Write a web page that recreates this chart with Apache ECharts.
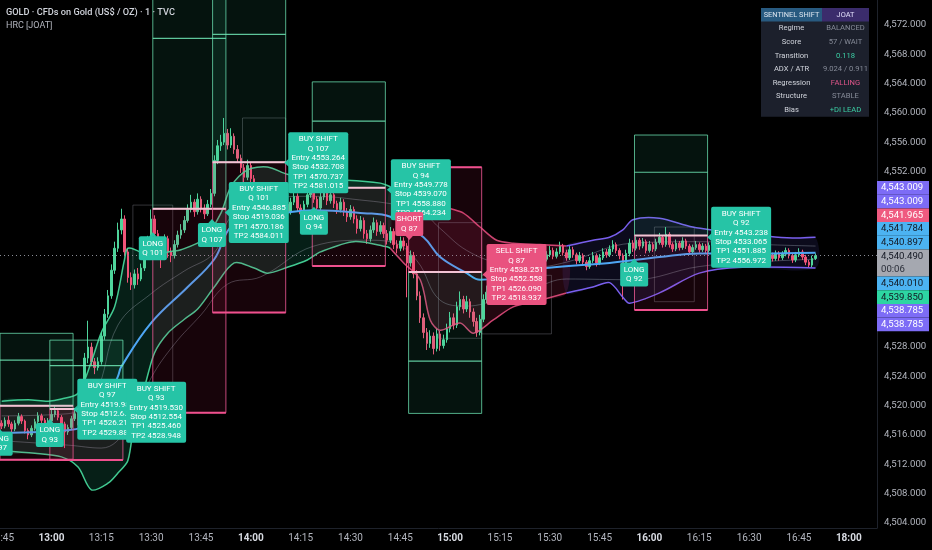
<!DOCTYPE html>
<html><head><meta charset="utf-8">
<script src="https://cdn.jsdelivr.net/npm/echarts@6/dist/echarts.min.js"></script>
<style>html,body{margin:0;padding:0;background:#000;}#c{width:932px;height:550px;}</style>
</head><body><div id="c"></div>
<script>
// ---------- DATA ----------
const tickLabels = ['12:45','13:00','13:15','13:30','13:45','14:00','14:15','14:30','14:45','15:00','15:15','15:30','15:45','16:00','16:15','16:30','16:45','18:00'];
const firstOpen = 4517.6;
const closes = [
4517.2,4518.0,4517.5,4516.8,4517.6,4518.5,4517.9,4516.6,4516.0,4516.9,
4517.8,4518.6,4518.0,4517.2,4517.9,4518.8,4519.3,4518.4,4517.5,4516.4,
4517.0,4518.2,4518.9,4517.8,4519.8,4526.5,4528.0,4526.0,4525.2,4526.0,
4529.5,4532.5,4535.0,4538.5,4541.5,4544.0,4545.5,4541.0,4537.5,4536.5,
4538.0,4537.3,4538.8,4540.5,4542.5,4545.5,4543.5,4542.0,4541.5,4542.8,
4541.0,4540.5,4542.0,4543.3,4544.0,4545.3,4546.8,4547.8,4546.5,4548.2,
4547.0,4546.2,4547.5,4549.0,4553.5,4555.5,4556.0,4557.2,4555.6,4556.8,
4555.0,4553.8,4552.5,4551.2,4552.8,4551.0,4549.5,4548.2,4549.0,4547.5,
4548.8,4547.0,4546.0,4547.2,4548.5,4547.5,4546.5,4547.8,4548.6,4547.0,
4546.2,4547.5,4548.8,4549.5,4548.2,4547.0,4548.5,4549.3,4548.0,4548.8,
4547.6,4546.8,4547.8,4546.5,4545.8,4546.8,4545.5,4544.2,4545.3,4543.5,
4542.8,4544.0,4545.0,4543.8,4544.6,4543.5,4542.6,4543.8,4542.0,4541.5,
4542.5,4541.8,4539.5,4540.5,4538.0,4535.0,4532.0,4530.0,4528.5,4529.5,
4527.8,4529.8,4528.2,4529.0,4530.5,4532.0,4531.0,4533.5,4534.5,4533.2,
4534.2,4532.8,4531.5,4530.0,4531.8,4534.5,4535.5,4536.2,4535.5,4536.8,
4537.5,4536.9,4537.8,4538.4,4537.6,4538.6,4539.2,4538.5,4539.4,4540.0,
4539.3,4540.2,4540.8,4540.0,4540.6,4541.2,4540.4,4541.0,4541.8,4540.9,
4540.2,4541.3,4540.6,4539.8,4540.5,4539.6,4539.0,4539.8,4540.5,4539.5,
4540.2,4541.0,4540.6,4541.4,4542.0,4541.2,4540.5,4538.8,4540.8,4542.2,
4541.5,4542.6,4541.8,4542.4,4541.2,4542.0,4541.4,4542.3,4543.0,4542.0,
4543.4,4542.0,4541.4,4542.2,4541.6,4542.5,4541.8,4541.0,4541.6,4542.0,
4541.3,4541.8,4541.2,4541.9,4542.4,4541.6,4541.0,4541.5,4540.8,4541.4,
4542.0,4541.3,4540.7,4541.2,4540.5,4541.0,4541.6,4540.9,4540.3,4540.9,
4541.4,4540.6,4540.1,4540.8,4540.2,4540.7,4541.2,4540.5,4539.9,4540.6,
4541.0,4540.3,4539.6,4539.2,4540.1,4540.49];
const highs = [
4518.0,4518.4,4518.6,4517.8,4518.0,4519.0,4518.8,4518.1,4516.9,4517.3,
4518.2,4519.1,4518.9,4518.3,4518.3,4519.4,4519.9,4519.6,4518.7,4517.8,
4517.4,4518.6,4519.4,4519.2,4520.3,4527.2,4531.6,4528.6,4526.5,4526.6,
4530.1,4533.2,4535.8,4539.3,4542.4,4545.0,4546.9,4546.0,4541.5,4538.2,
4538.6,4538.8,4539.4,4541.6,4543.2,4546.8,4546.0,4544.0,4542.6,4543.4,
4543.2,4541.6,4542.6,4543.9,4544.8,4545.9,4547.5,4548.8,4548.2,4549.0,
4548.6,4547.5,4548.1,4549.6,4554.2,4556.3,4557.0,4559.3,4557.8,4557.9,
4557.2,4555.6,4554.3,4553.0,4553.6,4553.2,4551.5,4550.0,4549.6,4549.4,
4549.5,4549.2,4547.5,4547.8,4549.1,4549.0,4548.0,4548.4,4549.3,4549.0,
4547.5,4548.0,4549.4,4550.2,4549.9,4548.6,4549.1,4550.0,4549.7,4549.4,
4549.2,4548.0,4548.4,4548.2,4547.0,4547.4,4547.2,4546.0,4545.9,4545.7,
4544.0,4544.6,4545.7,4545.4,4545.2,4545.0,4544.0,4544.4,4544.2,4542.6,
4543.1,4543.0,4542.2,4541.2,4541.0,4538.5,4535.6,4532.6,4530.6,4530.3,
4530.0,4530.5,4530.2,4529.7,4531.2,4532.8,4532.6,4534.2,4535.6,4535.0,
4535.0,4534.6,4533.3,4532.0,4532.4,4535.2,4536.4,4536.8,4536.7,4537.3,
4538.0,4537.9,4538.3,4538.9,4538.8,4539.1,4539.7,4539.6,4539.9,4540.6,
4540.4,4540.7,4541.4,4541.2,4541.1,4541.8,4541.6,4541.5,4542.4,4542.1,
4541.3,4541.8,4541.7,4540.9,4541.0,4540.8,4539.9,4540.3,4541.0,4540.8,
4540.7,4541.5,4541.4,4541.9,4542.6,4542.3,4541.5,4540.8,4541.3,4542.8,
4542.6,4543.1,4542.9,4542.9,4542.7,4542.5,4542.3,4542.8,4543.6,4543.3,
4544.4,4543.7,4542.3,4542.7,4542.5,4543.0,4542.8,4542.1,4542.0,4542.5,
4542.3,4542.2,4542.1,4542.3,4542.9,4542.7,4541.9,4541.9,4541.8,4541.8,
4542.4,4542.3,4541.6,4541.6,4541.5,4541.4,4542.1,4541.9,4541.2,4541.3,
4541.9,4541.7,4540.9,4541.2,4541.1,4541.1,4541.6,4541.5,4540.8,4541.0,
4541.5,4541.3,4540.6,4539.9,4540.5,4540.8];
const lows = [
4516.8,4516.9,4517.1,4516.2,4516.5,4517.3,4517.5,4516.2,4515.4,4515.7,
4516.6,4517.5,4517.6,4516.7,4516.9,4517.6,4518.4,4518.0,4517.0,4514.2,
4516.0,4516.7,4517.9,4517.3,4517.5,4519.5,4525.8,4525.4,4524.3,4524.8,
4525.6,4529.0,4532.0,4534.6,4538.0,4541.0,4543.4,4540.4,4536.8,4535.8,
4536.0,4536.5,4537.0,4538.4,4540.0,4542.2,4543.0,4541.4,4538.8,4541.0,
4540.2,4539.6,4540.1,4541.6,4542.8,4543.6,4545.0,4546.4,4545.8,4546.1,
4546.4,4545.5,4545.9,4547.1,4548.6,4553.0,4554.8,4555.6,4555.0,4555.2,
4554.4,4553.2,4551.8,4550.5,4550.8,4550.2,4548.8,4547.6,4547.8,4546.9,
4547.1,4546.4,4545.3,4545.7,4546.8,4547.0,4545.9,4546.1,4547.4,4546.5,
4545.6,4545.8,4547.1,4548.4,4547.7,4546.4,4546.6,4548.1,4547.4,4547.6,
4547.0,4546.2,4546.4,4545.9,4545.1,4545.4,4544.9,4543.5,4543.8,4542.8,
4542.1,4542.4,4543.6,4543.2,4543.4,4542.9,4542.0,4542.2,4541.4,4540.8,
4541.1,4541.2,4534.8,4539.0,4537.4,4534.4,4531.3,4529.2,4527.6,4527.9,
4527.0,4527.4,4527.5,4527.8,4528.6,4530.0,4530.4,4530.6,4533.0,4532.6,
4532.8,4532.0,4530.8,4529.4,4529.6,4531.4,4534.0,4535.0,4535.0,4535.2,
4536.4,4536.4,4536.6,4537.4,4537.1,4537.3,4538.2,4538.0,4538.2,4539.0,
4538.8,4539.0,4539.9,4539.6,4539.7,4540.3,4540.0,4540.1,4540.7,4540.5,
4539.8,4539.9,4540.2,4539.3,4539.5,4539.1,4538.5,4538.7,4539.5,4539.0,
4539.2,4539.9,4540.2,4540.3,4541.0,4540.8,4540.0,4534.5,4538.4,4540.4,
4541.0,4541.2,4541.3,4541.5,4540.8,4540.9,4541.0,4541.1,4542.0,4541.6,
4541.7,4541.6,4541.0,4541.1,4541.2,4541.3,4541.4,4540.6,4540.7,4541.3,
4540.9,4541.0,4540.8,4540.9,4541.6,4541.2,4540.6,4540.7,4540.4,4540.5,
4541.1,4540.9,4540.3,4540.4,4540.1,4540.2,4540.7,4540.5,4539.9,4540.0,
4540.6,4540.2,4539.7,4539.8,4539.8,4539.9,4540.4,4540.1,4539.5,4539.6,
4540.3,4539.9,4539.2,4538.9,4538.9,4539.9];

// regime band (upper / lower) per segment, [bar, price]
const upperGreen = [[0,4520.6],[8,4520.8],[14,4520.6],[18,4520.9],[23,4521.7],[27,4526.0],[30,4530.0],[34,4533.5],[37,4540.0],[38,4541.5],[42,4540.9],[44,4540.0],[50,4541.0],[54,4541.3],[61,4542.8],[66,4546.3],[69,4549.9],[74,4552.2],[80,4552.6],[86,4551.6],[94,4550.8],[104,4550.8],[114,4550.4],[117,4549.9]];
const lowerGreen = [[0,4513.8],[10,4513.5],[18,4513.0],[23,4511.6],[27,4508.5],[32,4509.4],[35,4510.8],[38,4512.5],[40,4518.0],[43,4522.5],[46,4527.2],[50,4529.9],[55,4531.8],[59,4533.2],[64,4536.2],[70,4539.5],[76,4538.8],[80,4538.1],[86,4538.9],[92,4539.9],[96,4541.0],[106,4542.4],[116,4541.7],[117,4541.5]];
const upperPink = [[117,4549.9],[124,4549.5],[129,4548.5],[134,4547.1],[139,4546.3],[144,4544.4],[149,4542.6],[154,4542.2],[162,4542.0],[170,4541.8]];
const lowerPink = [[117,4541.5],[121,4539.5],[126,4537.2],[129,4531.7],[132,4530.3],[138,4531.3],[142,4529.9],[148,4531.7],[154,4533.5],[162,4534.4],[170,4535.4]];
const upperPurple = [[170,4541.8],[178,4542.6],[183,4543.0],[187,4544.0],[190,4545.4],[198,4545.6],[208,4544.4],[221,4543.6],[238,4542.9],[245,4543.0]];
const lowerPurple = [[170,4535.4],[178,4536.2],[183,4536.8],[187,4534.8],[189,4534.0],[198,4535.4],[210,4538.1],[223,4538.9],[245,4538.8]];
const innerHigh = [[0,4518.6],[20,4518.9],[28,4521.5],[35,4531.0],[45,4535.3],[55,4538.4],[64,4540.9],[69,4545.8],[78,4548.2],[94,4548.6],[110,4548.0],[117,4547.6],[125,4547.0],[132,4544.2],[140,4541.2],[150,4539.4],[160,4538.9],[170,4539.6],[190,4542.2],[210,4542.4],[230,4542.0],[245,4541.8]];
const innerLow  = [[0,4515.2],[20,4514.6],[30,4514.2],[38,4517.0],[45,4523.8],[52,4528.4],[60,4532.4],[68,4536.6],[78,4537.6],[94,4541.8],[110,4542.6],[117,4542.4],[125,4539.8],[132,4534.4],[140,4533.6],[150,4534.6],[160,4536.0],[170,4537.3],[190,4537.2],[210,4539.0],[230,4539.7],[245,4540.0]];
const basisLine = [[0,4516.3],[21,4516.7],[30,4519.0],[35,4524.0],[36,4525.3],[45,4531.3],[56,4536.2],[64,4540.0],[69,4544.4],[76,4545.4],[94,4546.7],[109,4546.3],[117,4545.8],[127,4543.0],[132,4540.3],[140,4538.1],[144,4537.2],[164,4538.8],[183,4539.5],[198,4540.3],[210,4540.8],[228,4540.8],[245,4540.9]];

// faint structure boxes: startBar, endBar, top, bottom
const structStart = [40, 73, 132, 145, 197];
const structEnd   = [52, 86, 145, 166, 209];
const structTop   = [4547.4, 4559.3, 4545.0, 4537.8, 4544.4];
const structBot   = [4515.1, 4545.0, 4529.2, 4529.8, 4534.2];

// trade boxes
const boxStart = [0, 15, 46, 64, 94, 123, 191];
const boxSide  = ['long','long','long','long','long','short','long'];
const boxEntry = [4519.98, 4519.530, 4546.885, 4553.264, 4549.778, 4538.251, 4543.238];
const boxStop  = [4512.60, 4512.554, 4519.036, 4532.708, 4539.070, 4552.558, 4533.065];
const boxTP1   = [4526.21, 4525.460, 4570.186, 4570.737, 4558.880, 4526.090, 4551.885];
const boxTP2   = [4529.88, 4528.948, 4584.011, 4581.015, 4564.234, 4518.937, 4556.972];
const boxBars = 22;

// signal labels: bar, price, kind, pointer, text
const sigBar   = [-0.9, 14.5, 31.8, 46.5, 45.5, 63.3, 77.4, 94.0, 95.3, 126.2, 122.7, 155.0, 190.4, 222.6];
const sigPrice = [4514.8, 4516.0, 4519.5, 4519.1, 4541.5, 4543.3, 4546.4, 4545.0, 4553.2, 4549.5, 4544.8, 4537.9, 4537.9, 4543.0];
const sigKind  = ['buy','buy','buy','buy','buy','buy','buy','buy','buy','buy','sell','sell','buy','buy'];
const sigPtr   = ['up','up','left','left','up','up','left','up','left','left','down','left','up','left'];
const sigText  = [
 'LONG\nQ 97','LONG\nQ 93',
 'BUY SHIFT\nQ 97\nEntry 4519.980\nStop 4512.604\nTP1 4526.214\nTP2 4529.884',
 'BUY SHIFT\nQ 93\nEntry 4519.530\nStop 4512.554\nTP1 4525.460\nTP2 4528.948',
 'LONG\nQ 101','LONG\nQ 107',
 'BUY SHIFT\nQ 101\nEntry 4546.885\nStop 4519.036\nTP1 4570.186\nTP2 4584.011',
 'LONG\nQ 94',
 'BUY SHIFT\nQ 107\nEntry 4553.264\nStop 4532.708\nTP1 4570.737\nTP2 4581.015',
 'BUY SHIFT\nQ 94\nEntry 4549.778\nStop 4539.070\nTP1 4558.880\nTP2 4564.234',
 'SHORT\nQ 87',
 'SELL SHIFT\nQ 87\nEntry 4538.251\nStop 4552.558\nTP1 4526.090\nTP2 4518.937',
 'LONG\nQ 92',
 'BUY SHIFT\nQ 92\nEntry 4543.238\nStop 4533.065\nTP1 4551.885\nTP2 4556.972'];

// axis tags on the right
const tagValues = ['4,543.009','4,543.009','4,541.965','4,541.784','4,540.897','4,540.490','4,540.010','4,539.850','4,538.785','4,538.785'];
const tagTone   = ['purple','purple','pink','blue','blue','gray','blue','green','purple','purple'];
const countdown = '00:06';
const lastPrice = 4540.49;
const yTicks = [4504,4508,4512,4516,4520,4524,4528,4552,4556,4560,4564,4568,4572];

// info table
const tableHead = ['SENTINEL SHIFT','JOAT'];
const tableKeys = ['Regime','Score','Transition','ADX / ATR','Regression','Structure','Bias'];
const tableVals = ['BALANCED','57 / WAIT','0.118','9.024 / 0.911','FALLING','STABLE','+DI LEAD'];
const tableTone = ['muted','muted','teal','muted','pink','muted','teal'];

// ---------- BUILD ----------
const NCAT = 264;
const categories = [];
for (let i = 0; i < NCAT; i++) {
  let m = i < 255 ? 12*60+45+i : 18*60+(i-255);
  const h = Math.floor(m/60), mm = m%60;
  categories.push((h<10?'0':'')+h+':'+(mm<10?'0':'')+mm);
}
const tickSet = new Set(tickLabels);
const candles = closes.map((c,i)=>[i===0?firstOpen:closes[i-1], c, lows[i], highs[i]]);

const FONT = 'Roboto, "Liberation Sans", sans-serif';
const bandSegs = [
  {u:upperGreen, l:lowerGreen, fill:'rgba(38,190,140,0.16)', line:'rgba(72,222,160,0.9)'},
  {u:upperPink,  l:lowerPink,  fill:'rgba(210,40,95,0.17)',  line:'rgba(236,80,130,0.85)'},
  {u:upperPurple,l:lowerPurple,fill:'rgba(95,85,220,0.13)',  line:'rgba(128,100,250,0.95)'}
];

function coordF(api, i, p) {
  const f = Math.floor(i);
  const c = api.coord([f, p]);
  const bw = api.size([1,0])[0];
  return [c[0] + (i - f) * bw, c[1]];
}

const chart = echarts.init(document.getElementById('c'), null, {renderer:'canvas'});

const toneColor = {muted:'#868b98', teal:'#3ccfa5', pink:'#e0558a'};
const tagFill = {purple:'#7d6cf6', pink:'#ef5a80', blue:'#4cb3f2', gray:'#a5a8b0', green:'#2dd6a2'};
const tagText = {purple:'#ffffff', pink:'#ffffff', blue:'#131722', gray:'#131722', green:'#131722'};

const graphics = [];
graphics.push({type:'text', left:6, top:8, z:100, style:{text:'GOLD · CFDs on Gold (US$ / OZ) · 1 · TVC', fill:'#d1d4dc', font:'500 9.2px '+FONT}});
graphics.push({type:'text', left:6, top:21, z:100, style:{text:'HRC [JOAT]', fill:'#b2b5be', font:'9px '+FONT}});
// table
const tx0 = 761, tx1 = 869, tsplit = 822, ty0 = 8, th = 13.6;
graphics.push({type:'rect', z:100, shape:{x:tx0, y:ty0, width:tx1-tx0, height:th*8}, style:{fill:'#1c202c'}});
graphics.push({type:'rect', z:101, shape:{x:tx0, y:ty0, width:tsplit-tx0, height:th}, style:{fill:'#285a80'}});
graphics.push({type:'rect', z:101, shape:{x:tsplit, y:ty0, width:tx1-tsplit, height:th}, style:{fill:'#3b2c6c'}});
graphics.push({type:'text', z:102, x:(tx0+tsplit)/2, y:ty0+th/2, style:{text:tableHead[0], fill:'#dbe4ee', font:'7.4px '+FONT, align:'center', verticalAlign:'middle'}});
graphics.push({type:'text', z:102, x:(tsplit+tx1)/2, y:ty0+th/2, style:{text:tableHead[1], fill:'#e2defa', font:'7.4px '+FONT, align:'center', verticalAlign:'middle'}});
tableKeys.forEach((k,r)=>{
  const cy = ty0 + th*(r+1) + th/2;
  graphics.push({type:'text', z:102, x:(tx0+tsplit)/2, y:cy, style:{text:k, fill:'#d1d4dc', font:'7.6px '+FONT, align:'center', verticalAlign:'middle'}});
  graphics.push({type:'text', z:102, x:(tsplit+tx1)/2, y:cy, style:{text:tableVals[r], fill:toneColor[tableTone[r]], font:'7.6px '+FONT, align:'center', verticalAlign:'middle'}});
});
// right axis tags
let ty = 181;
tagValues.forEach((v,k)=>{
  const tone = tagTone[k];
  const h = tone==='gray' ? 27 : 13.7;
  graphics.push({type:'rect', z:100, shape:{x:877, y:ty, width:52, height:h}, style:{fill:tagFill[tone]}});
  graphics.push({type:'text', z:101, x:881, y:ty+6.9, style:{text:v, fill:tagText[tone], font:'9.6px '+FONT, verticalAlign:'middle'}});
  if (tone==='gray') graphics.push({type:'text', z:101, x:881, y:ty+20, style:{text:countdown, fill:'#2a2e39', font:'9.6px '+FONT, verticalAlign:'middle'}});
  ty += h;
});

const option = {
  backgroundColor:'#000000',
  animation:false,
  grid:{left:0, right:55, top:0, bottom:22, containLabel:false, outerBoundsMode:'none'},
  xAxis:{type:'category', data:categories, boundaryGap:true, min:0, max:NCAT-1,
    axisLine:{show:true, lineStyle:{color:'#1e222b'}}, axisTick:{show:false}, splitLine:{show:false},
    axisLabel:{interval:(idx,val)=>tickSet.has(val), margin:5, color:'#b2b5be', fontSize:10, fontFamily:FONT,
      formatter:(v)=> v.endsWith(':00') ? '{b|'+v+'}' : v,
      rich:{b:{fontWeight:'bold', color:'#d8dbe2', fontSize:10, fontFamily:FONT}}}},
  yAxis:{type:'value', position:'right', min:4503.28, max:4575.42, scale:true,
    splitLine:{show:false}, axisTick:{show:false},
    axisLine:{show:true, lineStyle:{color:'#1e222b'}},
    axisLabel:{customValues:yTicks, color:'#b2b5be', fontSize:9.6, fontFamily:FONT, margin:7,
      formatter:(v)=>v.toLocaleString('en-US',{minimumFractionDigits:3, maximumFractionDigits:3})}},
  graphic: graphics,
  series:[
    {type:'custom', name:'bandFill', z:1, clip:true, silent:true,
     data:[[0,4520],[117,4545],[170,4540]],
     renderItem:(params, api)=>{
       const seg = bandSegs[params.dataIndex];
       const up = seg.u.map(p=>api.coord(p));
       const lo = seg.l.map(p=>api.coord(p));
       return {type:'polygon', shape:{points:up.concat(lo.slice().reverse()), smooth:0.3}, style:{fill:seg.fill}};
     }},
    {type:'line', name:'innerHigh', z:2, data:innerHigh, smooth:0.4, showSymbol:false, silent:true,
     lineStyle:{color:'rgba(170,180,195,0.35)', width:1}},
    {type:'line', name:'innerLow', z:2, data:innerLow, smooth:0.4, showSymbol:false, silent:true,
     lineStyle:{color:'rgba(170,180,195,0.35)', width:1}},
    {type:'custom', name:'structure', z:2, clip:true, silent:true,
     data:structStart.map((s,k)=>[s, structTop[k]]),
     renderItem:(params, api)=>{
       const k = params.dataIndex;
       const bw = api.size([1,0])[0];
       const a = api.coord([structStart[k], structTop[k]]);
       const b = api.coord([structEnd[k], structBot[k]]);
       return {type:'rect', shape:{x:a[0]-bw/2, y:a[1], width:b[0]-a[0], height:b[1]-a[1]},
               style:{fill:null, stroke:'rgba(150,150,160,0.35)', lineWidth:1}};
     }},
    {type:'candlestick', name:'GOLD', z:3, data:candles, barWidth:2,
     itemStyle:{color:'#4fd49b', color0:'#f05478', borderColor:'#4fd49b', borderColor0:'#f05478', borderWidth:1},
     markLine:{silent:true, symbol:['none','none'], label:{show:false},
       lineStyle:{type:[1,3], color:'#8a8d96', width:1}, data:[{yAxis:lastPrice}]}},
    {type:'custom', name:'bandLines', z:4, clip:true, silent:true,
     data:[[0,4520],[117,4545],[170,4540]],
     renderItem:(params, api)=>{
       const seg = bandSegs[params.dataIndex];
       const up = seg.u.map(p=>api.coord(p));
       const lo = seg.l.map(p=>api.coord(p));
       return {type:'group', children:[
         {type:'polyline', shape:{points:up, smooth:0.3}, style:{stroke:seg.line, lineWidth:1.5, fill:null}},
         {type:'polyline', shape:{points:lo, smooth:0.3}, style:{stroke:seg.line, lineWidth:1.5, fill:null}}
       ]};
     }},
    {type:'line', name:'basis', z:5, data:basisLine, smooth:0.4, showSymbol:false, silent:true,
     lineStyle:{color:'#4ea6f4', width:2}},
    {type:'custom', name:'boxes', z:6, clip:true, silent:true,
     data:boxStart.map((s,k)=>[s, boxEntry[k]]),
     renderItem:(params, api)=>{
       const k = params.dataIndex;
       const bw = api.size([1,0])[0];
       const xl = api.coord([boxStart[k], boxEntry[k]])[0] - bw/2;
       const xr = xl + bw*boxBars;
       const yE = api.coord([boxStart[k], boxEntry[k]])[1];
       const yS = api.coord([boxStart[k], boxStop[k]])[1];
       const y1 = api.coord([boxStart[k], boxTP1[k]])[1];
       const y2 = api.coord([boxStart[k], boxTP2[k]])[1];
       const green = {fill:'rgba(60,210,150,0.09)', stroke:'rgba(110,230,180,0.75)', lineWidth:1};
       const pink = {fill:'rgba(225,40,100,0.10)', stroke:'rgba(240,90,150,0.8)', lineWidth:1};
       const ch = [];
       ch.push({type:'rect', shape:{x:xl, y:Math.min(yE,y2), width:xr-xl, height:Math.abs(y2-yE)}, style:green});
       ch.push({type:'rect', shape:{x:xl, y:Math.min(yE,yS), width:xr-xl, height:Math.abs(yS-yE)}, style:pink});
       ch.push({type:'line', shape:{x1:xl, y1:y1, x2:xr, y2:y1}, style:{stroke:'rgba(110,230,180,0.85)', lineWidth:1.2}});
       ch.push({type:'line', shape:{x1:xl, y1:yS, x2:xr, y2:yS}, style:{stroke:'#f0508e', lineWidth:2}});
       ch.push({type:'line', shape:{x1:xl, y1:yE, x2:xr, y2:yE}, style:{stroke:'#f3c3d4', lineWidth:2}});
       return {type:'group', children:ch};
     }},
    {type:'custom', name:'signals', z:10, clip:false, silent:true,
     data:sigBar.map((b,k)=>[Math.max(0,Math.floor(b)), sigPrice[k]]),
     renderItem:(params, api)=>{
       const k = params.dataIndex;
       const c = coordF(api, sigBar[k], sigPrice[k]);
       const lines = sigText[k].split('\n');
       const big = lines.length > 2;
       const w = big ? 60 : 28, h = big ? 61 : 24;
       const x = c[0]-w/2, y = c[1]-h/2;
       const col = sigKind[k]==='buy' ? '#26c4a6' : '#e9527f';
       const ch = [{type:'rect', shape:{x:x, y:y, width:w, height:h, r:2}, style:{fill:col}}];
       let tri;
       if (sigPtr[k]==='up') tri = [[c[0]-4,y+0.5],[c[0]+4,y+0.5],[c[0],y-4]];
       else if (sigPtr[k]==='down') tri = [[c[0]-4,y+h-0.5],[c[0]+4,y+h-0.5],[c[0],y+h+4]];
       else tri = [[x+0.5,c[1]-4],[x+0.5,c[1]+4],[x-4,c[1]]];
       ch.push({type:'polygon', shape:{points:tri}, style:{fill:col}});
       ch.push({type:'text', x:c[0], y:c[1], style:{text:sigText[k], fill:'#ffffff', font:'8px '+FONT, align:'center', verticalAlign:'middle', lineHeight: big?9.4:9.5}});
       return {type:'group', children:ch};
     }}
  ]
};
chart.setOption(option);
</script></body></html>
